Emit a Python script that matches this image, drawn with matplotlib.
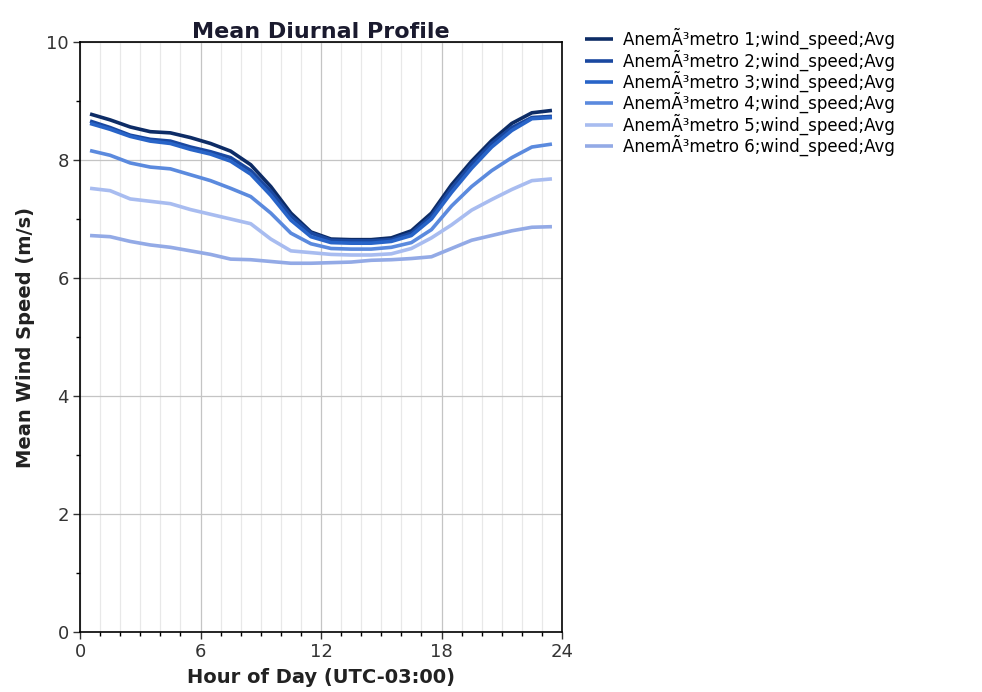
import matplotlib
matplotlib.use("Agg")
import matplotlib.pyplot as plt
from matplotlib.ticker import MultipleLocator

plt.rcParams['font.family'] = ['DejaVu Sans']

hours = [h + 0.5 for h in range(24)]

s1 = [8.78, 8.68, 8.56, 8.48, 8.46, 8.38, 8.28, 8.15, 7.92, 7.55, 7.10, 6.78,
      6.66, 6.65, 6.65, 6.68, 6.80, 7.10, 7.58, 7.98, 8.33, 8.62, 8.80, 8.84]
s2 = [8.66, 8.55, 8.42, 8.35, 8.32, 8.22, 8.14, 8.04, 7.82, 7.47, 7.05, 6.76,
      6.64, 6.63, 6.63, 6.65, 6.76, 7.05, 7.52, 7.93, 8.28, 8.55, 8.72, 8.74]
s3 = [8.62, 8.52, 8.40, 8.32, 8.28, 8.18, 8.10, 7.98, 7.76, 7.40, 6.98, 6.70,
      6.60, 6.59, 6.59, 6.62, 6.72, 7.00, 7.45, 7.86, 8.22, 8.50, 8.70, 8.72]
s4 = [8.16, 8.08, 7.95, 7.88, 7.85, 7.75, 7.65, 7.52, 7.38, 7.10, 6.76, 6.58,
      6.50, 6.49, 6.49, 6.52, 6.60, 6.82, 7.22, 7.55, 7.82, 8.04, 8.22, 8.27]
s5 = [7.52, 7.48, 7.34, 7.30, 7.26, 7.16, 7.08, 7.00, 6.92, 6.66, 6.46, 6.43,
      6.40, 6.39, 6.39, 6.41, 6.50, 6.68, 6.90, 7.15, 7.33, 7.50, 7.65, 7.68]
s6 = [6.72, 6.70, 6.62, 6.56, 6.52, 6.46, 6.40, 6.32, 6.31, 6.28, 6.25, 6.25,
      6.26, 6.27, 6.30, 6.31, 6.33, 6.36, 6.50, 6.64, 6.72, 6.80, 6.86, 6.87]

series = [s1, s2, s3, s4, s5, s6]
labels = [f"AnemÃ³metro {i};wind_speed;Avg" for i in range(1, 7)]
colors = ['#0d2c66', '#1a48a0', '#2864c8', '#5b8ade', '#a8bcf0', '#93aae6']

fig = plt.figure(figsize=(9.82, 6.92), dpi=100)
ax = fig.add_axes([80/982, 1-632/692, 482/982, 590/692])

for s, lab, c in zip(series, labels, colors):
    ax.plot(hours, s, color=c, lw=2.6, label=lab, solid_capstyle='butt')

ax.set_xlim(0, 24)
ax.set_ylim(0, 10)
ax.xaxis.set_major_locator(MultipleLocator(6))
ax.xaxis.set_minor_locator(MultipleLocator(1))
ax.yaxis.set_major_locator(MultipleLocator(2))
ax.yaxis.set_minor_locator(MultipleLocator(1))
ax.grid(which='major', color='#c4c4c4', lw=0.9)
ax.grid(which='minor', axis='x', color='#e8e8e8', lw=0.9)
ax.set_axisbelow(True)
ax.tick_params(which='major', direction='out', length=5, width=1, labelsize=13,
               colors='#333333', pad=3)
ax.tick_params(which='minor', direction='out', length=3, width=1)
ax.tick_params(axis='both', labelcolor='#333333')
for sp in ax.spines.values():
    sp.set_color('black')
    sp.set_linewidth(1.2)

ax.set_title("Mean Diurnal Profile", fontsize=16, fontweight='bold', pad=3,
             color='#1a1a2e')
ax.set_xlabel("Hour of Day (UTC-03:00)", fontsize=14, fontweight='bold',
              color='#222222', labelpad=5)
ax.set_ylabel("Mean Wind Speed (m/s)", fontsize=14, fontweight='bold',
              color='#222222', labelpad=8)

fig.legend(loc='upper left', bbox_to_anchor=(585/982, 1-28/692), frameon=False,
           fontsize=12, handlelength=1.7, handletextpad=0.6, labelspacing=0.0,
           borderpad=0, borderaxespad=0)

fig.savefig("out.png", dpi=100)
